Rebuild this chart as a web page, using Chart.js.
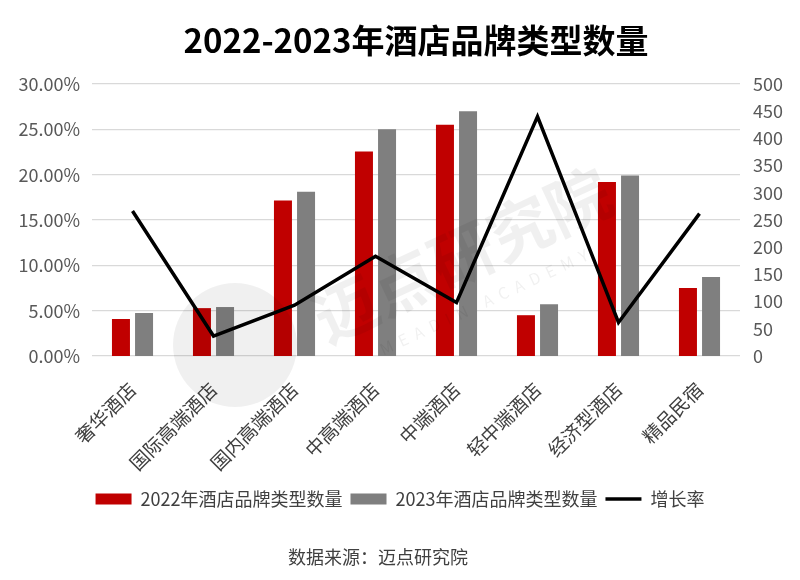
<!DOCTYPE html>
<html>
<head>
<meta charset="utf-8">
<script src="https://cdn.jsdelivr.net/npm/chart.js@4.4.0/dist/chart.umd.min.js"></script>
<style>
html, body { margin: 0; padding: 0; background: #fff; }
#wrap { width: 800px; height: 580px; position: relative; }
</style>
</head>
<body>
<div id="wrap"><canvas id="c"></canvas></div>
<script>
var categories = ['奢华酒店', '国际高端酒店', '国内高端酒店', '中高端酒店', '中端酒店', '轻中端酒店', '经济型酒店', '精品民宿'];
var count2022 = [68, 88, 286, 376, 425, 75, 320, 125];
var count2023 = [79, 90, 302, 417, 450, 95, 332, 145];
var growthRate = [16.0, 2.2, 5.6, 11.0, 5.9, 26.4, 3.7, 15.7];

var FONT = "'Noto Sans CJK SC', 'Noto Sans', sans-serif";

// title, watermark and source line, drawn by hand on the canvas
var extras = {
  id: 'extras',
  afterDatasetsDraw: function (chart) {
    var ctx = chart.ctx;
    ctx.save();
    ctx.fillStyle = 'rgba(0,0,0,0.06)';
    ctx.beginPath();
    ctx.arc(235, 345, 62, 0, Math.PI * 2);
    ctx.fill();
    ctx.translate(462, 255);
    ctx.rotate(-25 * Math.PI / 180);
    ctx.font = 'bold 64px ' + FONT;
    ctx.textAlign = 'center';
    ctx.textBaseline = 'middle';
    ctx.fillText('迈点研究院', 0, 0);
    ctx.font = '16px ' + FONT;
    ctx.fillText('M  E  A  D  I  N     A  C  A  D  E  M  Y', 0, 52);
    ctx.restore();

    ctx.save();
    ctx.textAlign = 'center';
    ctx.textBaseline = 'middle';
    ctx.font = 'bold 33px ' + FONT;
    ctx.fillStyle = '#000';
    ctx.fillText('2022-2023年酒店品牌类型数量', 416, 40);
    ctx.font = '18px ' + FONT;
    ctx.fillStyle = '#404040';
    ctx.fillText('数据来源：迈点研究院', 378, 557);
    ctx.restore();
  }
};

new Chart(document.getElementById('c'), {
  data: {
    labels: categories,
    datasets: [{
      type: 'bar',
      label: '2022年酒店品牌类型数量',
      data: count2022,
      backgroundColor: '#C00000',
      borderWidth: 0,
      yAxisID: 'yCount',
      order: 1,
      pointStyle: 'rect',
      categoryPercentage: 0.57,
      barPercentage: 0.78
    }, {
      type: 'bar',
      label: '2023年酒店品牌类型数量',
      data: count2023,
      backgroundColor: '#7F7F7F',
      borderWidth: 0,
      yAxisID: 'yCount',
      order: 1,
      pointStyle: 'rect',
      categoryPercentage: 0.57,
      barPercentage: 0.78
    }, {
      type: 'line',
      label: '增长率',
      data: growthRate,
      borderColor: '#000000',
      backgroundColor: '#000000',
      borderWidth: 3.5,
      pointRadius: 0,
      pointStyle: 'line',
      tension: 0,
      yAxisID: 'yRate',
      order: 0
    }]
  },
  options: {
    responsive: true,
    maintainAspectRatio: false,
    animation: false,
    layout: { padding: { left: 0, right: 0, top: 84, bottom: 62 } },
    plugins: {
      title: { display: false },
      legend: {
        position: 'bottom',
        labels: {
          usePointStyle: true,
          pointStyleWidth: 36,
          boxHeight: 11,
          padding: 8,
          color: '#404040',
          font: { family: FONT, size: 18 },
          sort: function (a, b) { return a.datasetIndex - b.datasetIndex; }
        }
      },
      tooltip: { enabled: false }
    },
    scales: {
      x: {
        grid: { display: false },
        border: { display: false },
        ticks: {
          color: '#404040',
          font: { family: FONT, size: 19 },
          minRotation: 45,
          maxRotation: 45,
          padding: 14
        },
        afterFit: function (s) { s.height = 126; }
      },
      yRate: {
        position: 'left',
        min: 0,
        max: 30,
        border: { display: false },
        grid: { color: '#D9D9D9', lineWidth: 1.3, drawTicks: false },
        ticks: {
          stepSize: 5,
          padding: 12,
          color: '#595959',
          font: { family: FONT, size: 18 },
          callback: function (v) { return v.toFixed(2) + '%'; }
        },
        afterFit: function (s) { s.width = 92; }
      },
      yCount: {
        position: 'right',
        min: 0,
        max: 500,
        border: { display: false },
        grid: { display: false, drawTicks: false },
        ticks: {
          stepSize: 50,
          padding: 13,
          color: '#595959',
          font: { family: FONT, size: 18 }
        },
        afterFit: function (s) { s.width = 60; }
      }
    }
  },
  plugins: [extras]
});
</script>
</body>
</html>
